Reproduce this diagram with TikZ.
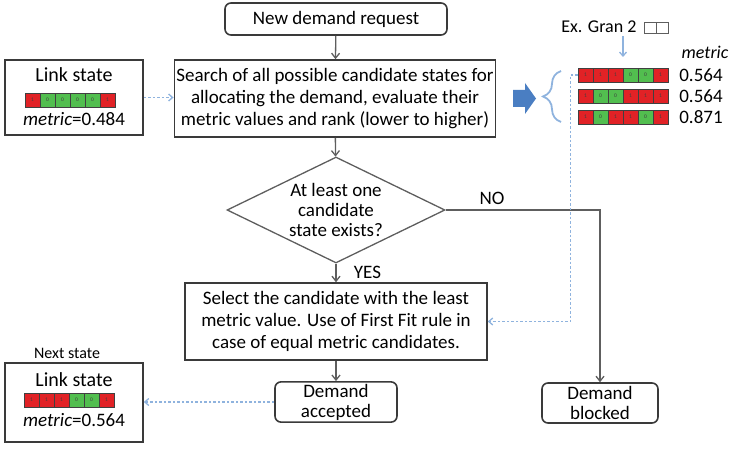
\documentclass[tikz,border=0pt]{standalone}
\usepackage{fontspec}
\setmainfont{Carlito}
\usepackage{xcolor}
\definecolor{boxedge}{HTML}{3A3A3A}
\definecolor{flowline}{HTML}{5E5E5E}
\definecolor{linkblue}{HTML}{8FB3DE}
\definecolor{bigarrow}{HTML}{4A7EC2}
\definecolor{bitred}{HTML}{E12226}
\definecolor{bitgreen}{HTML}{52BE4F}
\usepackage{tikz}
\usetikzlibrary{arrows.meta, positioning, calc, shapes.geometric, decorations.pathreplacing}

\newcommand{\linkbar}[4]{%
  \foreach \b [count=\i] in {#4} {
    \ifnum\b=1 \def\bitcol{bitred}\else\def\bitcol{bitgreen}\fi
    \node[bitcell, fill=\bitcol] (#1-\i) at ({#2+(\i-1)*15}, #3) {\b};
  }%
}

\begin{document}
\begin{tikzpicture}[
  x=1pt, y=-1pt,
  font=\fontsize{19}{22}\selectfont,
  stepbox/.style={
    draw=boxedge, line width=1.6pt, fill=white, align=center,
    inner sep=2pt
  },
  endbox/.style={stepbox, rounded corners=6pt},
  bitcell/.style={
    draw=black!75, line width=0.6pt, minimum width=15pt, minimum height=14pt,
    inner sep=0pt, font=\fontsize{5.5}{5.5}\selectfont, text=black!75
  },
  flow/.style={-{Straight Barb[length=5pt, width=8pt]}, flowline, line width=1.3pt},
  dotlink/.style={-{Straight Barb[length=4pt, width=7pt]}, linkblue, line width=1.3pt,
    dash pattern=on 2.5pt off 2pt}
]
  \useasboundingbox (0,0) rectangle (738,457);

  \node[endbox, minimum width=222pt, minimum height=32pt] (req) at (336,19)
    {New demand request};
  \node[stepbox, minimum width=316pt, minimum height=77pt] (search) at (335,98.5)
    {Search of all possible candidate states for\\
     allocating the demand, evaluate their\\
     metric values and rank (lower to higher)};
  \node[draw=flowline, line width=1.3pt, diamond, aspect=2, inner sep=0pt,
    minimum width=218pt, minimum height=106pt, align=center,
    font=\fontsize{19}{20}\selectfont] (exists) at (336,210)
    {At least one\\ candidate\\ state exists?};
  \node[stepbox, minimum width=302pt, minimum height=77pt] (select) at (336,321.5)
    {Select the candidate with the least\\
     metric value. Use of First Fit rule in\\
     case of equal metric candidates.};
  \node[endbox, minimum width=122pt, minimum height=40pt,
    font=\fontsize{19}{20}\selectfont] (accepted) at (336,402)
    {Demand\\ accepted};
  \node[endbox, minimum width=116pt, minimum height=40pt,
    font=\fontsize{19}{20}\selectfont] (blocked) at (600,403)
    {Demand\\ blocked};

  \draw[flow] (req) -- (search);
  \draw[flow] (search) -- (exists);
  \draw[flow] (exists.south) -- (select.north)
    node[pos=0.45, right=14pt, text=black] (yes) {YES};
  \draw[flow] (select) -- (accepted);
  \draw[flow] (exists.east) -- (600,210) node[pos=0.3, above=1pt, text=black] (no) {NO}
    -- (blocked.north);

  % current link state
  \node[stepbox, minimum width=138pt, minimum height=75pt] (ls) at (74,97.5) {};
  \node[font=\fontsize{20}{22}\selectfont] (lstitle) at (74,75) {Link state};
  \linkbar{lsbar}{32.5}{100}{1,0,0,0,0,1}
  \node (lsmetric) at (74,119) {\textit{metric}=0.484};
  \draw[dotlink] (ls.east) -- (search.west |- ls.east);

  % next link state
  \node[font=\fontsize{16}{18}\selectfont] (nexttitle) at (67,353) {Next state};
  \node[stepbox, minimum width=138pt, minimum height=79pt] (ns) at (74,402.5) {};
  \node[font=\fontsize{20}{22}\selectfont] (nstitle) at (74,380) {Link state};
  \linkbar{nsbar}{31.5}{400}{1,1,1,0,0,1}
  \node (nsmetric) at (74,420) {\textit{metric}=0.564};
  \draw[dotlink] (accepted.west) -- (ns.east |- accepted.west);

  % candidate states
  \fill[bigarrow] (513,90) -- (525,90) -- (525,83) -- (536,98.5) -- (525,114)
    -- (525,107) -- (513,107) -- cycle;
  \draw[linkblue, line width=1.8pt, decorate,
    decoration={brace, amplitude=18pt, aspect=0.5}] (561,122) -- (561,71);
  \linkbar{candA}{585.5}{75}{1,1,1,0,0,1}
  \linkbar{candB}{585.5}{96}{1,0,0,1,1,1}
  \linkbar{candC}{585.5}{117}{1,0,1,1,0,1}
  \node[font=\fontsize{18}{20}\itshape] (metrichead) at (705,52) {metric};
  \node[font=\fontsize{19}{20}\selectfont] (mA) at (701,75) {0.564};
  \node[font=\fontsize{19}{20}\selectfont] (mB) at (701,96) {0.564};
  \node[font=\fontsize{19}{20}\selectfont] (mC) at (701,117) {0.871};
  \node[anchor=east, font=\fontsize{18}{20}\selectfont] (gran) at (640,27) {Ex. Gran 2};
  \node[draw=flowline, line width=0.8pt, minimum width=12pt, minimum height=11pt,
    inner sep=0pt] (granA) at (650,27.5) {};
  \node[draw=flowline, line width=0.8pt, minimum width=12pt, minimum height=11pt,
    inner sep=0pt, right=0pt of granA] (granB) {};
  \coordinate (granfoot) at (623,57);
  \draw[-{Straight Barb[length=4pt, width=7pt]}, linkblue, line width=1.3pt]
    (granfoot |- gran.south) -- (granfoot);
  \draw[dotlink] (candA-1.west) -- ++(-7,0) |- (select.east);
\end{tikzpicture}
\end{document}
